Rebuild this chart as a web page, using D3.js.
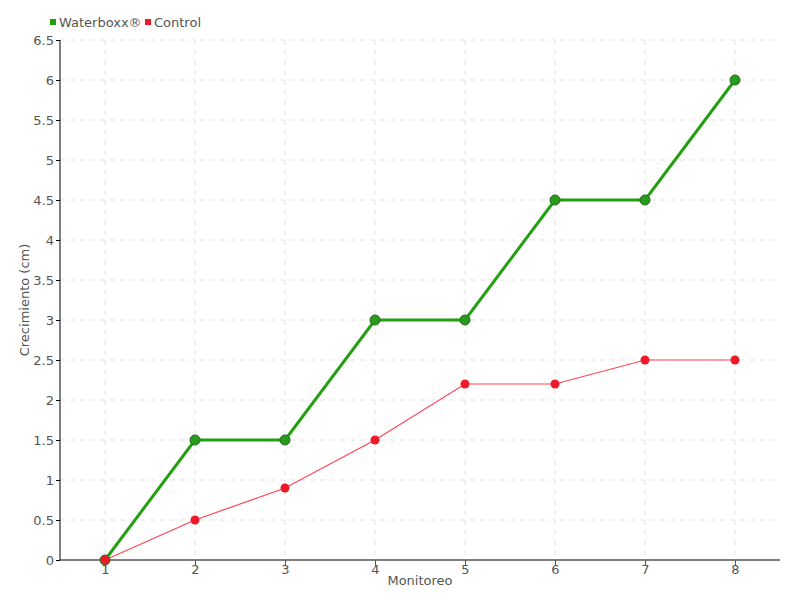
<!DOCTYPE html>
<html><head><meta charset="utf-8">
<script src="https://cdn.jsdelivr.net/npm/d3@7"></script>
<style>
body{margin:0;background:#fff;}
text{font-family:"DejaVu Sans",sans-serif;}
</style></head>
<body><svg id="c" width="800" height="600"></svg>
<script>
const categories = [1,2,3,4,5,6,7,8];
const waterboxx = [0,1.5,1.5,3,3,4.5,4.5,6];
const control = [0,0.5,0.9,1.5,2.2,2.2,2.5,2.5];
const yTicks = [0,0.5,1,1.5,2,2.5,3,3.5,4,4.5,5,5.5,6,6.5];
const seriesNames = ["Waterboxx®","Control"];
const colors = ["#22a010","#f0192c"];

const svg = d3.select("#c");
const m = {l:60, r:780, t:40, b:560};
const x = d3.scalePoint().domain(categories).range([m.l, m.r]).padding(0.5);
const y = d3.scaleLinear().domain([0,6.5]).range([m.b, m.t]);
const fmt = d => String(d);

// grid
const g = svg.append("g");
g.selectAll(".hg").data(yTicks.slice(1)).join("line")
  .attr("x1", m.l).attr("x2", m.r).attr("y1", d=>y(d)).attr("y2", d=>y(d))
  .attr("stroke","#e2e2e2").attr("stroke-dasharray","5,5");
g.selectAll(".vg").data(categories).join("line")
  .attr("x1", d=>x(d)).attr("x2", d=>x(d)).attr("y1", m.t).attr("y2", m.b)
  .attr("stroke","#e2e2e2").attr("stroke-dasharray","5,5");

// axes
const ya = svg.append("g").attr("transform",`translate(${m.l},0)`)
  .call(d3.axisLeft(y).tickValues(yTicks).tickFormat(fmt).tickSize(4).tickPadding(2));
ya.select(".domain").attr("stroke","#000").attr("d",`M0,${m.t}V${m.b}`);
ya.selectAll(".tick line").attr("stroke","#000");
ya.selectAll("text").attr("fill","#555").style("font-size","13px");

const xa = svg.append("g").attr("transform",`translate(0,${m.b})`)
  .call(d3.axisBottom(x).tickFormat(fmt).tickSize(6).tickPadding(-1));
xa.select(".domain").attr("stroke","#000").attr("d",`M${m.l},0H${m.r}`);
xa.selectAll(".tick line").attr("stroke","#555");
xa.selectAll("text").attr("fill","#555").style("font-size","13px");

// titles
svg.append("text").attr("x",420).attr("y",585).attr("text-anchor","middle")
  .attr("fill","#555").style("font-size","13px").text("Monitoreo");
svg.append("text").attr("transform","translate(29,300) rotate(-90)").attr("text-anchor","middle")
  .attr("fill","#555").style("font-size","13px").text("Crecimiento (cm)");

// lines
const line = d3.line().x((d,i)=>x(categories[i])).y(d=>y(d));
svg.append("path").datum(waterboxx).attr("d",line).attr("fill","none")
  .attr("stroke",colors[0]).attr("stroke-width",3);
svg.append("path").datum(control).attr("d",line).attr("fill","none")
  .attr("stroke","#ff4455").attr("stroke-width",1.2);
svg.selectAll(".pw").data(waterboxx).join("circle")
  .attr("cx",(d,i)=>x(categories[i])).attr("cy",d=>y(d)).attr("r",5)
  .attr("fill","#2a9a1e").attr("stroke","#1e6e14").attr("stroke-width",1);
svg.selectAll(".pc").data(control).join("circle")
  .attr("cx",(d,i)=>x(categories[i])).attr("cy",d=>y(d)).attr("r",4.5)
  .attr("fill","#ee1a2a");

// legend
const leg = svg.append("g");
const lx = [50, 145];
seriesNames.forEach((n,i)=>{
  leg.append("rect").attr("x",lx[i]).attr("y",19).attr("width",6).attr("height",6).attr("fill",colors[i]);
  leg.append("text").attr("x",lx[i]+9).attr("y",27).attr("fill","#555").style("font-size","13px").text(n);
});
</script></body></html>
